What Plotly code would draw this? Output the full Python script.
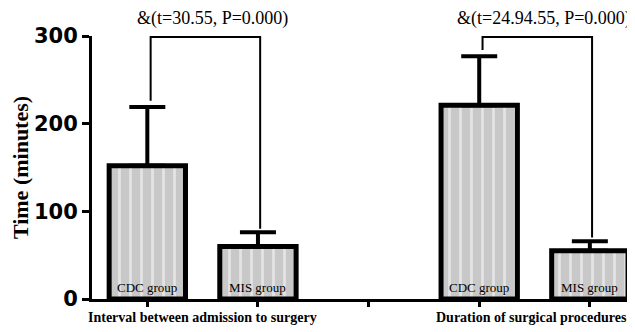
import plotly.graph_objects as go

# ---- data ----
group_labels = ["Interval between admission to surgery", "Duration of surgical procedures"]
bar_labels = ["CDC group", "MIS group"]
cdc_means = [152, 221]
cdc_sds = [67, 56]
mis_means = [60, 55]
mis_sds = [16, 11]
stat_texts = ["&(t=30.55, P=0.000)", "&(t=24.94.55, P=0.000)"]
y_ticks = [0, 100, 200, 300]
y_max = 300

# positions: each group occupies 2 slots, with one empty slot between groups
x_pos, means, sds, texts = [], [], [], []
for g in range(len(group_labels)):
    for j, (m, s) in enumerate([(cdc_means[g], cdc_sds[g]), (mis_means[g], mis_sds[g])]):
        x_pos.append(3 * g + j)
        means.append(m)
        sds.append(s)
        texts.append(bar_labels[j])

serif = "Liberation Serif, Times New Roman, serif"

fig = go.Figure()
fig.add_trace(go.Bar(
    x=x_pos, y=means, width=0.69,
    marker=dict(
        color="#c8c8c8",
        line=dict(color="black", width=5),
        pattern=dict(shape="|", fgcolor="white", bgcolor="#c8c8c8", size=11, solidity=0.25),
    ),
    error_y=dict(type="data", symmetric=False, array=sds, arrayminus=[0] * len(sds),
                 color="black", thickness=4, width=18),
    showlegend=False,
))

shapes = []
annotations = []
# labels inside bars
for xp, t in zip(x_pos, texts):
    annotations.append(dict(x=xp, y=0.042, xref="x", yref="paper", yanchor="middle",
                            text=t, showarrow=False,
                            font=dict(family=serif, size=13, color="black")))

# significance brackets
bracket_top = 299
gap = 7
for g in range(len(group_labels)):
    xl, xr = 3 * g, 3 * g + 1
    yl = cdc_means[g] + cdc_sds[g] + gap
    yr = mis_means[g] + mis_sds[g] + gap * 0.6
    shapes.append(dict(type="path", xref="x", yref="y",
                       path=f"M {xl + 0.03} {yl} L {xl + 0.03} {bracket_top} L {xr + 0.02} {bracket_top} L {xr + 0.02} {yr}",
                       line=dict(color="black", width=2)))
    annotations.append(dict(x=(xl + xr) / 2 + 0.09, y=1.068, xref="x", yref="paper", yanchor="middle",
                            text=stat_texts[g], showarrow=False,
                            font=dict(family=serif, size=18, color="black")))
    annotations.append(dict(x=(xl + xr) / 2 - 0.03 * g, y=-0.072, xref="x", yref="paper", yanchor="middle",
                            text=f"<b>{group_labels[g]}</b>", showarrow=False,
                            font=dict(family=serif, size=14, color="black")))

# the page body has an 8px margin, so the figure is sized to fill the rest of the window
fig.update_layout(
    width=627, height=324,
    margin=dict(l=84, r=2, t=28, b=33),
    plot_bgcolor="white", paper_bgcolor="white",
    shapes=shapes, annotations=annotations,
)
fig.update_xaxes(range=[-0.5, 4.39], tickvals=[0, 1, 2, 3, 4], ticktext=[""] * 5,
                 showline=True, linecolor="black", linewidth=3,
                 ticks="outside", ticklen=5, tickwidth=3, tickcolor="black",
                 showgrid=False, zeroline=False, automargin=False)
fig.update_yaxes(range=[0, y_max], tickvals=y_ticks,
                 showline=True, linecolor="black", linewidth=3,
                 ticks="outside", ticklen=7, tickwidth=3, tickcolor="black",
                 tickfont=dict(family="DejaVu Sans, Arial, sans-serif", size=21, color="black", weight="bold"),
                 showgrid=False, zeroline=False, automargin=False,
                 title=dict(text="<b>Time (minutes)</b>", standoff=4,
                            font=dict(family=serif, size=22, color="black")))

fig.write_html("out.html")
